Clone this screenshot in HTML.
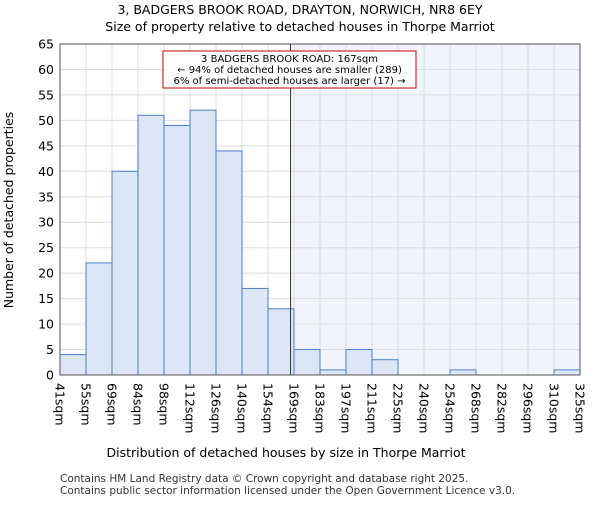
<!DOCTYPE html>
<html><head><meta charset="utf-8"><style>
body{margin:0;background:#fff;font-family:"Liberation Sans","DejaVu Sans",sans-serif}
</style></head><body>
<svg width="600" height="500" xmlns="http://www.w3.org/2000/svg" font-family="DejaVu Sans, Liberation Sans, sans-serif">
<text x="300" y="14" text-anchor="middle" font-size="12.5">3, BADGERS BROOK ROAD, DRAYTON, NORWICH, NR8 6EY</text>
<text x="300" y="31" text-anchor="middle" font-size="12.5">Size of property relative to detached houses in Thorpe Marriot</text>
<g id="plot"></g>
<text x="286" y="457" text-anchor="middle" font-size="12.5">Distribution of detached houses by size in Thorpe Marriot</text>
<text transform="translate(13,210) rotate(-90)" text-anchor="middle" font-size="12.5">Number of detached properties</text>
<text x="60" y="482" font-size="10.5" fill="#333">Contains HM Land Registry data © Crown copyright and database right 2025.</text>
<text x="60" y="494" font-size="10.5" fill="#333">Contains public sector information licensed under the Open Government Licence v3.0.</text>
</svg>
<script>
const categories=["41sqm","55sqm","69sqm","84sqm","98sqm","112sqm","126sqm","140sqm","154sqm","169sqm","183sqm","197sqm","211sqm","225sqm","240sqm","254sqm","268sqm","282sqm","296sqm","310sqm","325sqm"];
const counts=[4,22,40,51,49,52,44,17,13,5,1,5,3,0,0,1,0,0,0,1];
const yTicks=[0,5,10,15,20,25,30,35,40,45,50,55,60,65];
const markerValue=167;
const binStarts=[41,55,69,84,98,112,126,140,154,169,183,197,211,225,240,254,268,282,296,310,325];
const NS="http://www.w3.org/2000/svg";
const L=60,R=580,T=44,B=375,n=counts.length,bw=(R-L)/n;
const y=v=>B-(v/65)*(B-T);
const x=i=>L+i*bw;
function mk(t,a){const e=document.createElementNS(NS,t);for(const k in a)e.setAttribute(k,a[k]);return e;}
const g=document.getElementById('plot');
let mi=0;for(let i=0;i<n;i++){if(markerValue>=binStarts[i]&&markerValue<binStarts[i+1])mi=i;}
const mx=x(mi)+bw*(markerValue-binStarts[mi])/(binStarts[mi+1]-binStarts[mi]);
const sh=mk('rect',{x:mx,y:T,width:R-mx,height:B-T,fill:'#f1f4fc'});


g.appendChild(sh);
for(let i=0;i<=n;i++){const l=mk('line',{x1:x(i),x2:x(i),y1:T,y2:B,stroke:'#dcdcdc','stroke-width':1});


g.appendChild(l);}
yTicks.forEach(v=>{const l=mk('line',{x1:L,x2:R,y1:y(v),y2:y(v),stroke:'#dcdcdc','stroke-width':1});


g.appendChild(l);
const t=mk('text',{x:L-6,y:y(v)+4.5,'text-anchor':'end','font-size':12.5});t.textContent=v;


g.appendChild(t);});
counts.forEach((c,i)=>{if(c<=0)return;const r=mk('rect',{x:x(i),y:y(c),width:bw,height:B-y(c),fill:'#dce6f4',stroke:'#4a7fcf','stroke-width':1});


g.appendChild(r);});
categories.forEach((c,i)=>{const t=mk('text',{transform:`translate(${x(i)-4.5},${B+8}) rotate(90)`,'font-size':12.5});t.textContent=c;


g.appendChild(t);});
const ax=mk('rect',{x:L,y:T,width:R-L,height:B-T,fill:'none',stroke:'#555','stroke-width':1});


g.appendChild(ax);
const ml=mk('line',{x1:mx,x2:mx,y1:T,y2:B,stroke:'#333','stroke-width':1});


g.appendChild(ml);
const bx=mk('rect',{x:163,y:51,width:253,height:37,fill:'#fff',stroke:'#cc0000','stroke-width':1});


g.appendChild(bx);
["3 BADGERS BROOK ROAD: 167sqm","← 94% of detached houses are smaller (289)","6% of semi-detached houses are larger (17) →"].forEach((s,i)=>{
const t=mk('text',{x:289.5,y:62+i*11,'text-anchor':'middle','font-size':10});t.textContent=s;


g.appendChild(t);});
</script>
</body></html>
